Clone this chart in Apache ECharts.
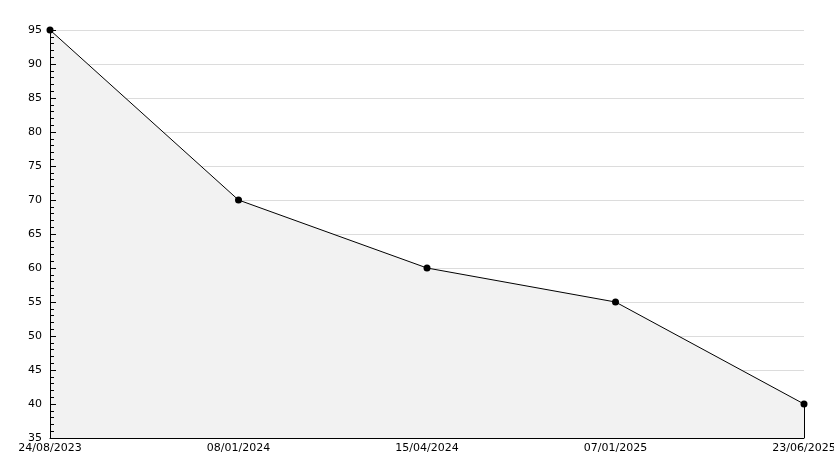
<!DOCTYPE html>
<html>
<head>
<meta charset="utf-8">
<script src="https://cdn.jsdelivr.net/npm/echarts@6/dist/echarts.min.js"></script>
<style>
  html, body { margin: 0; padding: 0; background: #fff; }
  #chart { width: 834px; height: 468px; }
</style>
</head>
<body>
<div id="chart"></div>
<script>
// data
const dates = ['24/08/2023', '08/01/2024', '15/04/2024', '07/01/2025', '23/06/2025']
const values = [95, 70, 60, 55, 40]
const yMin = 35
const yMax = 95
const yStep = 5

const chart = echarts.init(document.getElementById('chart'))
const lastDate = dates[dates.length - 1]
const lastValue = values[values.length - 1]

chart.setOption({
  animation: false,
  textStyle: { fontFamily: 'DejaVu Sans', fontSize: 11, color: '#000' },
  grid: { left: 50, right: 30, top: 30, bottom: 30, containLabel: false, outerBoundsMode: 'none' },
  xAxis: {
    type: 'category',
    data: dates,
    boundaryGap: false,
    z: 5,
    axisLine: { lineStyle: { color: '#000', width: 1 } },
    axisTick: { show: false },
    axisLabel: { color: '#000', fontSize: 11, margin: 5, fontFamily: 'DejaVu Sans' },
    splitLine: { show: false }
  },
  yAxis: [
    // gridlines only, under the area
    {
      type: 'value',
      min: yMin,
      max: yMax,
      interval: yStep,
      z: 0,
      axisLine: { show: false },
      axisTick: { show: false },
      axisLabel: { show: false },
      splitLine: { show: true, lineStyle: { color: '#dcdcdc', width: 1 } }
    },
    // axis line, ticks and labels on top of the area
    {
      type: 'value',
      position: 'left',
      min: yMin,
      max: yMax,
      interval: yStep,
      z: 5,
      axisLine: { show: true, lineStyle: { color: '#000', width: 1 } },
      axisTick: { show: true, inside: true, length: 6, lineStyle: { color: '#000' } },
      minorTick: { show: true, splitNumber: 5, length: 4, lineStyle: { color: '#000' } },
      axisLabel: { color: '#000', fontSize: 11, margin: 8, fontFamily: 'DejaVu Sans' },
      splitLine: { show: false }
    }
  ],
  series: [{
    type: 'line',
    data: values,
    yAxisIndex: 0,
    z: 2,
    symbol: 'circle',
    symbolSize: 7,
    itemStyle: { color: '#000' },
    lineStyle: { color: '#000', width: 1 },
    areaStyle: { color: '#f2f2f2', opacity: 1 },
    markLine: {
      silent: true,
      symbol: 'none',
      label: { show: false },
      lineStyle: { color: '#000', width: 1, type: 'solid' },
      data: [[{ coord: [lastDate, lastValue] }, { coord: [lastDate, yMin] }]]
    }
  }]
})
</script>
</body>
</html>
